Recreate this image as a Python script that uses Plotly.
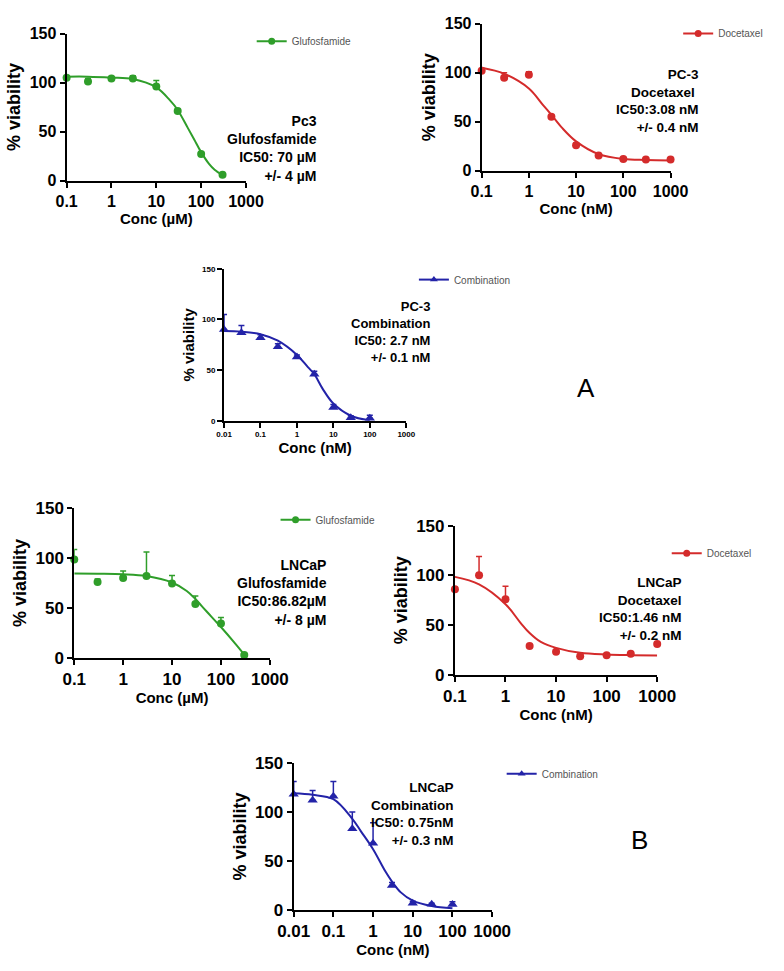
import plotly.graph_objects as go

W, H = 784, 971

# ---------------- data ----------------
conc_glu = [0.1, 0.3, 1, 3, 10, 30, 100, 300]
conc_doc = [0.1, 0.3, 1, 3, 10, 30, 100, 300, 1000]
conc_comb = [0.01, 0.03, 0.1, 0.3, 1, 3, 10, 30, 100]

pc3_glu = [105, 101, 104, 104, 96, 71, 27, 6]
pc3_glu_err = [2, 3, 2, 3, 6, 2, 2, 1]
pc3_doc = [102, 95, 98, 55, 26, 15.5, 12, 11.5, 11.5]
pc3_doc_err = [2, 5, 3, 2, 2, 1, 1, 1, 1]
pc3_comb = [90, 87, 82, 73, 63, 46, 13, 3, 2.5]
pc3_comb_err = [15, 7, 3, 3, 2, 3, 3, 2, 3]
ln_glu = [98.5, 76, 80, 82, 74.5, 54, 34.5, 3]
ln_glu_err = [10, 3, 7, 24, 8, 8, 6, 1]
ln_doc = [86, 100, 76, 29, 23, 18.7, 19.7, 21, 31]
ln_doc_err = [2, 19, 13, 1, 1, 1, 1, 1, 1]
ln_comb = [118, 112, 116, 83, 68, 25, 7, 6, 5.5]
ln_comb_err = [13, 10, 15, 17, 21, 3, 2, 1, 3]

# fitted curves
fit_x_pc3_glu = [0.1, 0.3, 1, 3, 10, 20, 30, 50, 70, 100, 150, 200, 300]
fit_y_pc3_glu = [106, 106, 105, 103.5, 95, 82, 72, 54, 42, 29, 17, 11, 5.5]
fit_x_pc3_doc = [0.1, 0.3, 1, 2, 3, 5, 10, 30, 100, 300, 1000]
fit_y_pc3_doc = [105, 99, 84, 67, 57, 44, 30, 17, 12, 11, 10.5]
fit_x_pc3_comb = [0.01, 0.03, 0.1, 0.3, 1, 2, 3, 5, 10, 30, 100]
fit_y_pc3_comb = [88.5, 88, 85.5, 79, 65, 53, 46, 32, 17, 5, 0.6]
fit_x_ln_glu = [0.1, 0.3, 1, 3, 10, 20, 30, 50, 100, 200, 300]
fit_y_ln_glu = [84.5, 84.3, 83.8, 82, 75.5, 67, 59, 47, 31, 14, 3.5]
fit_x_ln_doc = [0.1, 0.3, 1, 2, 3, 5, 10, 30, 100, 300, 1000]
fit_y_ln_doc = [98.5, 91, 71, 52, 42, 33, 27, 22, 20.3, 19.7, 19.4]
fit_x_ln_comb = [0.01, 0.03, 0.1, 0.3, 0.5, 1, 2, 3, 5, 10, 30, 100]
fit_y_ln_comb = [119, 117.5, 113, 93, 80, 62, 40, 29, 18, 9.5, 4, 1.7]

xticks_01 = [0.1, 1, 10, 100, 1000]
xtick_text_01 = ["0.1", "1", "10", "100", "1000"]
xticks_001 = [0.01, 0.1, 1, 10, 100, 1000]
xtick_text_001 = ["0.01", "0.1", "1", "10", "100", "1000"]
yticks = [0, 50, 100, 150]

series_names = ["Glufosfamide", "Docetaxel", "Combination"]
annot_texts = [
    "Pc3<br>Glufosfamide<br>IC50: 70 µM<br>+/- 4 µM",
    "PC-3<br>Docetaxel <br>IC50:3.08 nM<br>+/- 0.4 nM",
    "PC-3<br>Combination<br>IC50: 2.7 nM<br>+/- 0.1 nM",
    "LNCaP<br>Glufosfamide<br>IC50:86.82µM<br>+/- 8 µM",
    "LNCaP<br>Docetaxel<br>IC50:1.46 nM<br>+/- 0.2 nM",
    "LNCaP<br>Combination<br>IC50: 0.75nM<br>+/- 0.3 nM",
]

GREEN = "#2f9e2a"
RED = "#d42b2b"
BLUE = "#2323a8"
FONT = "Liberation Sans, Arial, sans-serif"


def px_x(p):
    return p / W


def px_y(p):
    return 1 - p / H


panels = [
    dict(xd=(52, 240), yd=(175, 25), x=conc_glu, y=pc3_glu, e=pc3_glu_err, fx=fit_x_pc3_glu, fy=fit_y_pc3_glu,
         c=GREEN, s="circle", n=series_names[0], unit="Conc (µM)", xt=xticks_01, xtt=xtick_text_01, xr=[-1, 3],
         ts=16, leg=(246, 33), an=(316, 142.5), ans=14, yts=18, xts=15, ann=annot_texts[0]),
    dict(xd=(487, 685), yd=(165, 15), x=conc_doc, y=pc3_doc, e=pc3_doc_err, fx=fit_x_pc3_doc, fy=fit_y_pc3_doc,
         c=RED, s="circle", n=series_names[1], unit="Conc (nM)", xt=xticks_01, xtt=xtick_text_01, xr=[-1, 3],
         ts=16, leg=(693, 25), an=(716, 94), ans=13.5, yts=18, xts=15, ann=annot_texts[1]),
    dict(xd=(217, 408), yd=(420, 265), x=conc_comb, y=pc3_comb, e=pc3_comb_err, fx=fit_x_pc3_comb, fy=fit_y_pc3_comb,
         c=BLUE, s="triangle-up", n=series_names[2], unit="Conc (nM)", xt=xticks_001, xtt=xtick_text_001, xr=[-2, 3],
         ts=8, leg=(416, 276), an=(434, 329), ans=13, yts=15, xts=15, ann=annot_texts[2]),
    dict(xd=(60, 265), yd=(662, 509), x=conc_glu, y=ln_glu, e=ln_glu_err, fx=fit_x_ln_glu, fy=fit_y_ln_glu,
         c=GREEN, s="circle", n=series_names[0], unit="Conc (µM)", xt=xticks_01, xtt=xtick_text_01, xr=[-1, 3],
         ts=17, leg=(271, 521), an=(326, 595), ans=14, yts=18, xts=15, ann=annot_texts[3]),
    dict(xd=(459, 671), yd=(679, 527), x=conc_doc, y=ln_doc, e=ln_doc_err, fx=fit_x_ln_doc, fy=fit_y_ln_doc,
         c=RED, s="circle", n=series_names[1], unit="Conc (nM)", xt=xticks_01, xtt=xtick_text_01, xr=[-1, 3],
         ts=17, leg=(681, 555), an=(698, 611.5), ans=13.5, yts=18, xts=15, ann=annot_texts[4]),
    dict(xd=(290, 498), yd=(919, 769), x=conc_comb, y=ln_comb, e=ln_comb_err, fx=fit_x_ln_comb, fy=fit_y_ln_comb,
         c=BLUE, s="triangle-up", n=series_names[2], unit="Conc (nM)", xt=xticks_001, xtt=xtick_text_001, xr=[-2, 3],
         ts=17, leg=(508, 780), an=(459, 821.5), ans=13.5, yts=18, xts=15, ann=annot_texts[5]),
]

fig = go.Figure()
layout = dict(
    width=W, height=H, margin=dict(l=0, r=0, t=0, b=0),
    paper_bgcolor="white", plot_bgcolor="white",
    font=dict(family=FONT, color="black"),
    showlegend=True,
)
annotations = []

for i, p in enumerate(panels, start=1):
    xa = "x" if i == 1 else f"x{i}"
    ya = "y" if i == 1 else f"y{i}"
    lg = "legend" if i == 1 else f"legend{i}"
    # fitted curve
    fig.add_trace(go.Scatter(
        x=p["fx"], y=p["fy"], mode="lines", line=dict(color=p["c"], width=2, shape="spline", smoothing=1.0),
        xaxis=xa, yaxis=ya, showlegend=False, hoverinfo="skip", cliponaxis=False))
    # data points with upper error bars
    fig.add_trace(go.Scatter(
        x=p["x"], y=p["y"], mode="markers",
        marker=dict(color=p["c"], symbol=p["s"], size=8 if p["s"] == "circle" else 9),
        error_y=dict(type="data", symmetric=False, array=p["e"], arrayminus=[0] * len(p["e"]),
                     color=p["c"], thickness=1.5, width=3),
        xaxis=xa, yaxis=ya, showlegend=False, cliponaxis=False))
    # legend entry
    fig.add_trace(go.Scatter(
        x=[None], y=[None], mode="lines+markers", name=p["n"],
        line=dict(color=p["c"], width=2), marker=dict(color=p["c"], symbol=p["s"], size=7),
        xaxis=xa, yaxis=ya, legend=lg, showlegend=True))

    x0, x1 = p["xd"]
    yb, yt = p["yd"]
    axis_common = dict(showline=True, linecolor="black", linewidth=2, ticks="outside", ticklen=5,
                       tickwidth=2, tickcolor="black", showgrid=False, zeroline=False, mirror=False)
    layout["xaxis" if i == 1 else f"xaxis{i}"] = dict(
        axis_common, domain=[px_x(x0), px_x(x1)], anchor=ya, type="log", range=p["xr"],
        tickvals=p["xt"], ticktext=p["xtt"],
        tickfont=dict(size=p["ts"], family=FONT, weight="bold"),
        title=dict(text=p["unit"], font=dict(size=p["xts"], family=FONT, weight="bold"), standoff=0))
    layout["yaxis" if i == 1 else f"yaxis{i}"] = dict(
        axis_common, domain=[px_y(yb), px_y(yt)], anchor=xa, range=[0, 150], tickvals=yticks,
        tickfont=dict(size=p["ts"], family=FONT, weight="bold"),
        title=dict(text="% viability", font=dict(size=p["yts"], family=FONT, weight="bold"), standoff=4))
    lx, ly = p["leg"]
    layout[lg] = dict(x=px_x(lx), y=px_y(ly), xanchor="left", yanchor="middle", bgcolor="rgba(0,0,0,0)",
                      font=dict(size=10, color="#555555", family=FONT), itemwidth=30,
                      tracegroupgap=0)
    ax, ay = p["an"]
    annotations.append(dict(
        x=px_x(ax), y=px_y(ay), xref="paper", yref="paper", xanchor="right", yanchor="middle",
        align="right", showarrow=False, text=p["ann"], borderpad=0,
        font=dict(size=p["ans"], family=FONT, weight="bold", color="black")))

annotations.append(dict(x=px_x(608), y=px_y(387), xref="paper", yref="paper", text="A", showarrow=False,
                        font=dict(size=26, family=FONT, color="black")))
annotations.append(dict(x=px_x(663), y=px_y(865), xref="paper", yref="paper", text="B", showarrow=False,
                        font=dict(size=26, family=FONT, color="black")))
layout["annotations"] = annotations
fig.update_layout(**layout)
fig.write_html("out.html", config={"displayModeBar": False},
               post_script="document.body.style.margin='0px';")
